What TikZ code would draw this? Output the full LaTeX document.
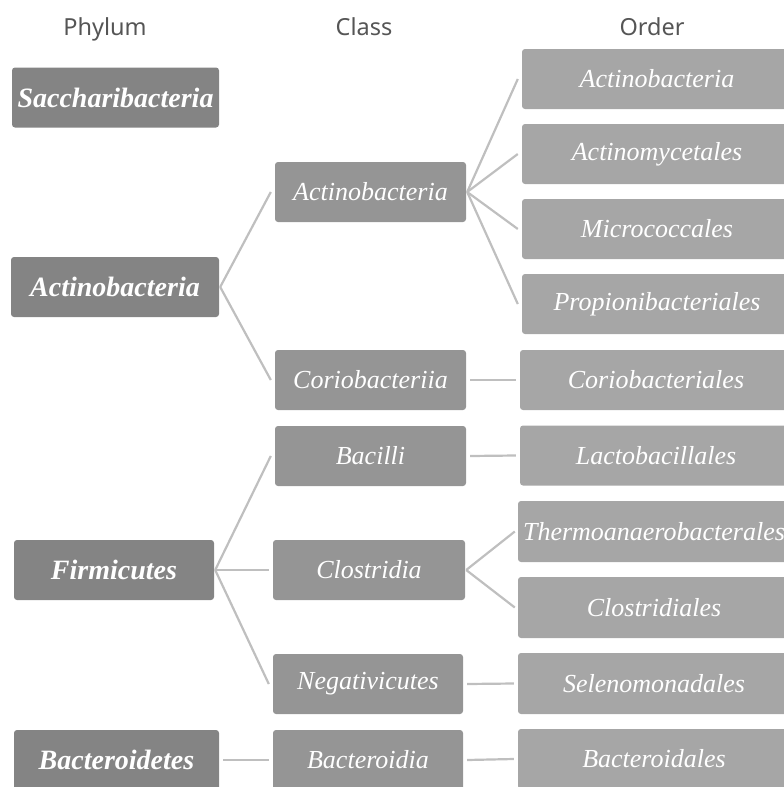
\documentclass[tikz,border=0pt]{standalone}
\usepackage{fontspec}
\setmainfont{Liberation Serif}
\newfontfamily\hdrfont{Noto Sans}
\usetikzlibrary{calc}
\definecolor{phyc}{HTML}{848484}
\definecolor{clac}{HTML}{959595}
\definecolor{ordc}{HTML}{A6A6A6}
\definecolor{linec}{HTML}{BFBFBF}
\definecolor{hdrc}{HTML}{555555}
\tikzset{
  basebox/.style={rectangle, rounded corners=3pt, inner sep=0pt, minimum height=60pt, text=white, font=\fontsize{26}{28}\selectfont\itshape},
  phybox/.style={basebox, fill=phyc, font=\fontsize{28}{30}\selectfont\bfseries\itshape},
  clabox/.style={basebox, fill=clac},
  ordbox/.style={basebox, fill=ordc},
  hdr/.style={text=hdrc, font=\hdrfont\fontsize{23.5}{26}\selectfont, inner sep=0pt, anchor=base},
  conn/.style={draw=linec, line width=2.2pt},
}
\begin{document}
\begin{tikzpicture}[x=1pt,y=-1pt]
\useasboundingbox (0,0) rectangle (784,787);
% headers
\node[hdr] (hP) at (105,35) {Phylum};
\node[hdr] (hC) at (364,35) {Class};
\node[hdr] (hO) at (652,35) {Order};
% phylum
\node[phybox, minimum width=207pt] (pSac) at (115.5,97.5) {Saccharibacteria};
\node[phybox, minimum width=208pt] (pAct) at (115,287) {Actinobacteria};
\node[phybox, minimum width=200pt] (pFir) at (114,570) {Firmicutes};
\node[phybox, minimum width=205pt] (pBac) at (116.5,760) {Bacteroidetes};
% class
\node[clabox, minimum width=191pt] (cAct) at (370.5,192) {Actinobacteria};
\node[clabox, minimum width=191pt] (cCor) at (370.5,380) {Coriobacteriia};
\node[clabox, minimum width=191pt] (cBacil) at (370.5,456) {Bacilli};
\node[clabox, minimum width=192pt] (cClo) at (369,570) {Clostridia};
\node[clabox, minimum width=190pt] (cNeg) at (368,684) {Negativicutes};
\node[clabox, minimum width=190pt] (cBac) at (368,760) {Bacteroidia};
% order
\node[ordbox, minimum width=270pt] (oAct) at (657,79) {Actinobacteria};
\node[ordbox, minimum width=270pt] (oAcm) at (657,154) {Actinomycetales};
\node[ordbox, minimum width=270pt] (oMic) at (657,229) {Micrococcales};
\node[ordbox, minimum width=270pt] (oPro) at (657,304) {Propionibacteriales};
\node[ordbox, minimum width=272pt] (oCor) at (656,380) {Coriobacteriales};
\node[ordbox, minimum width=272pt] (oLac) at (656,455.5) {Lactobacillales};
\node[ordbox, minimum width=272pt, minimum height=61pt] (oThe) at (654,531.5) {Thermoanaerobacterales};
\node[ordbox, minimum width=272pt, minimum height=61pt] (oClo) at (654,607.5) {Clostridiales};
\node[ordbox, minimum width=272pt, minimum height=61pt] (oSel) at (654,683.5) {Selenomonadales};
\node[ordbox, minimum width=272pt] (oBac) at (654,759) {Bacteroidales};
% connectors: phylum -> class
\draw[conn] ($(pAct.east)+(1,0)$) -- ($(cAct.west)+(-4,0)$);
\draw[conn] ($(pAct.east)+(1,0)$) -- ($(cCor.west)+(-4,0)$);
\draw[conn] ($(pFir.east)+(1,0)$) -- ($(cBacil.west)+(-4,0)$);
\draw[conn] ($(pFir.east)+(1,0)$) -- ($(cClo.west)+(-4,0)$);
\draw[conn] ($(pFir.east)+(1,0)$) -- ($(cNeg.west)+(-4,0)$);
\draw[conn] ($(pBac.east)+(4,0)$) -- ($(cBac.west)+(-4,0)$);
% class -> order
\draw[conn] ($(cAct.east)+(1,0)$) -- ($(oAct.west)+(-4,0)$);
\draw[conn] ($(cAct.east)+(1,0)$) -- ($(oAcm.west)+(-4,0)$);
\draw[conn] ($(cAct.east)+(1,0)$) -- ($(oMic.west)+(-4,0)$);
\draw[conn] ($(cAct.east)+(1,0)$) -- ($(oPro.west)+(-4,0)$);
\draw[conn] ($(cCor.east)+(4,0)$) -- ($(oCor.west)+(-4,0)$);
\draw[conn] ($(cBacil.east)+(4,0)$) -- ($(oLac.west)+(-4,0)$);
\draw[conn] ($(cClo.east)+(1,0)$) -- ($(oThe.west)+(-3,0)$);
\draw[conn] ($(cClo.east)+(1,0)$) -- ($(oClo.west)+(-3,0)$);
\draw[conn] ($(cNeg.east)+(4,0)$) -- ($(oSel.west)+(-4,0)$);
\draw[conn] ($(cBac.east)+(4,0)$) -- ($(oBac.west)+(-4,0)$);
\end{tikzpicture}
\end{document}
